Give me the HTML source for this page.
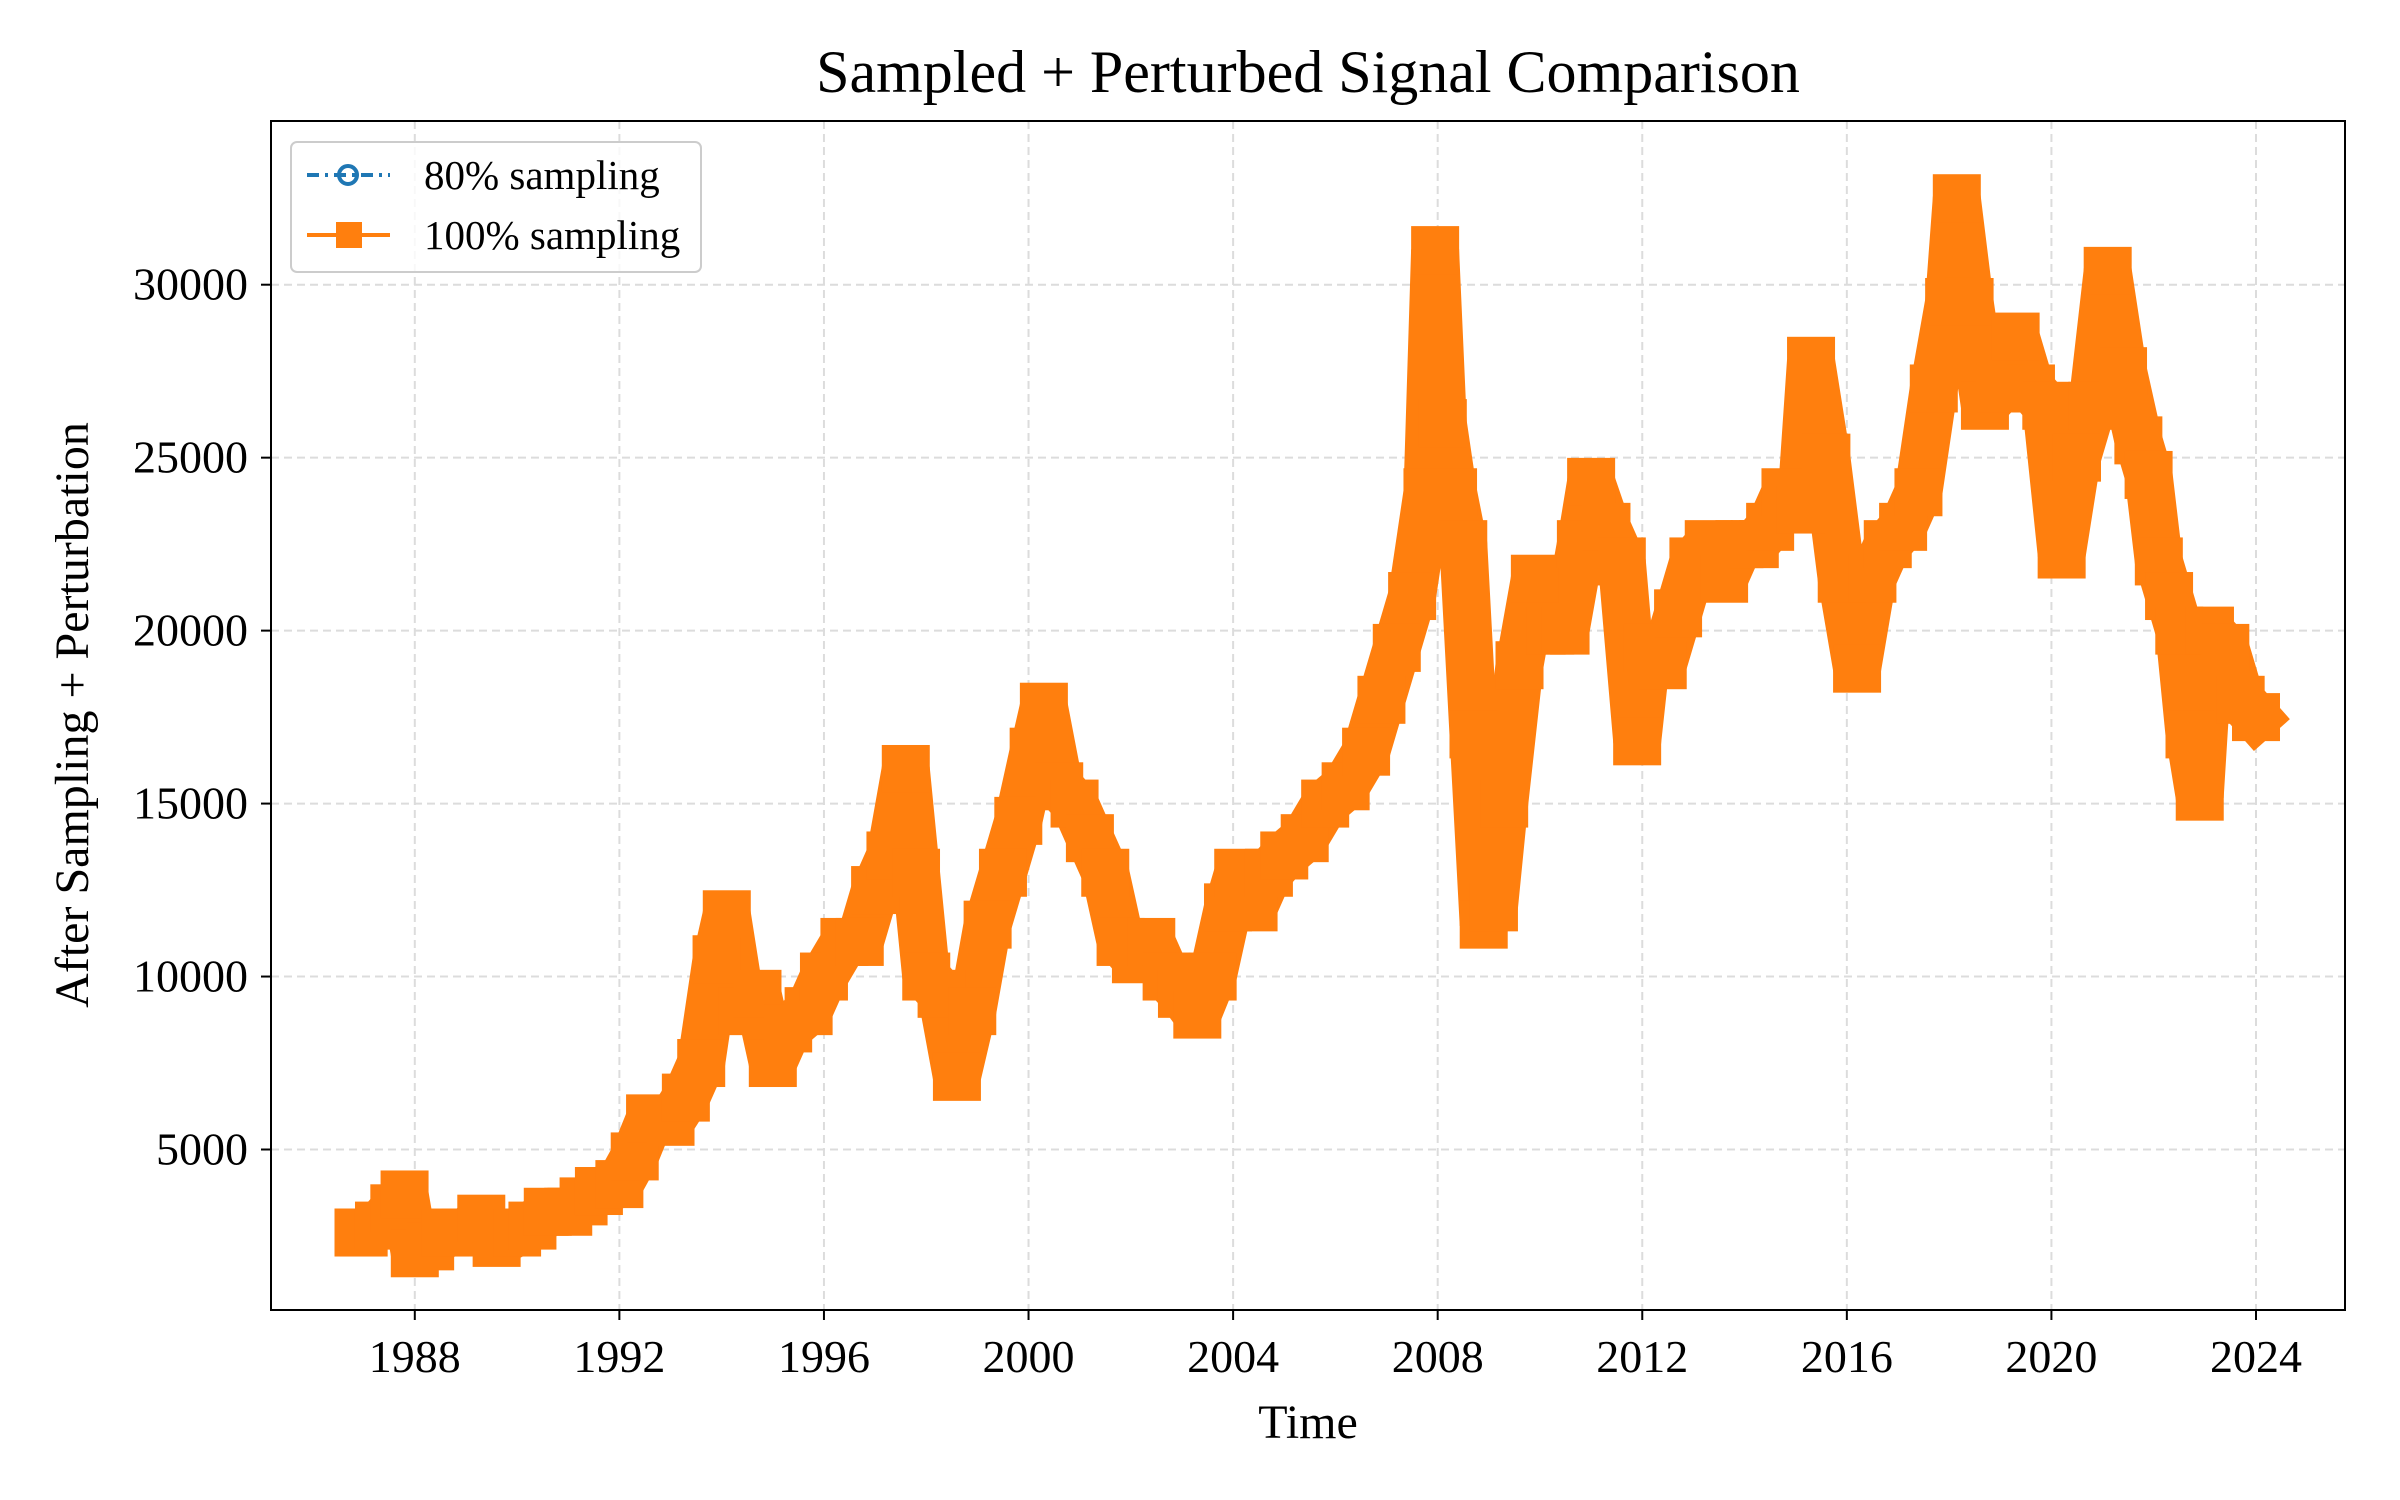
<!DOCTYPE html>
<html><head><meta charset="utf-8"><style>
body{margin:0;background:#fff}
svg{display:block;font-family:"Liberation Serif",serif}
</style></head><body>
<svg id="chart" width="2400" height="1500" viewBox="0 0 2400 1500" xmlns="http://www.w3.org/2000/svg">
<rect width="2400" height="1500" fill="#fff"/>
<g id="grid"></g>
<g id="series"></g>
<rect x="271" y="121" width="2074" height="1189" fill="none" stroke="#000" stroke-width="2"/>
<g id="ticks"></g>
<text x="1308" y="92" font-size="60" text-anchor="middle">Sampled + Perturbed Signal Comparison</text>
<text x="1308" y="1438" font-size="48" text-anchor="middle">Time</text>
<text transform="translate(88,715) rotate(-90)" font-size="48" text-anchor="middle">After Sampling + Perturbation</text>
<g>
<rect x="291" y="142" width="410" height="130" rx="6" fill="#fff" fill-opacity="0.8" stroke="#ccc" stroke-width="2"/>
<g>
<line x1="307" y1="175" x2="390" y2="175" stroke="#1f77b4" stroke-width="4" stroke-dasharray="12,6,3,6"/>
<circle cx="348" cy="175" r="9" fill="none" stroke="#1f77b4" stroke-width="4"/>
<text x="424" y="189" font-size="41">80% sampling</text>
</g>
<g>
<line x1="307" y1="235" x2="390" y2="235" stroke="#ff7f0e" stroke-width="4"/>
<rect x="336" y="222" width="26" height="26" fill="#ff7f0e"/>
<text x="424" y="249" font-size="41">100% sampling</text>
</g>
</g>
</svg>
<script>
const years = [1986.9,1987.0,1987.3,1987.6,1987.8,1988.0,1988.3,1988.6,1989.0,1989.3,1989.6,1990.0,1990.3,1990.6,1991.0,1991.3,1991.6,1992.0,1992.3,1992.6,1993.0,1993.3,1993.6,1993.9,1994.1,1994.4,1994.7,1995.0,1995.3,1995.7,1996.0,1996.4,1996.7,1997.0,1997.3,1997.6,1997.8,1998.0,1998.3,1998.6,1998.9,1999.2,1999.5,1999.8,2000.1,2000.3,2000.6,2000.9,2001.2,2001.5,2001.8,2002.1,2002.4,2002.7,2003.0,2003.3,2003.6,2003.9,2004.1,2004.4,2004.7,2005.0,2005.4,2005.8,2006.2,2006.6,2006.9,2007.2,2007.5,2007.8,2007.95,2008.1,2008.3,2008.5,2008.7,2008.9,2009.1,2009.3,2009.6,2009.9,2010.2,2010.5,2010.8,2011.0,2011.3,2011.6,2011.9,2012.1,2012.4,2012.7,2013.0,2013.3,2013.6,2013.9,2014.2,2014.5,2014.8,2015.1,2015.3,2015.6,2015.9,2016.2,2016.5,2016.8,2017.1,2017.4,2017.7,2018.0,2018.15,2018.4,2018.7,2019.0,2019.3,2019.6,2019.9,2020.2,2020.5,2020.8,2021.1,2021.4,2021.7,2021.9,2022.1,2022.3,2022.5,2022.7,2022.9,2023.1,2023.4,2023.7,2024.0];
const values = [2600,2600,2800,3300,3700,2000,2200,2600,2600,3000,2300,2600,2800,3200,3200,3500,3800,4000,4800,5900,5800,6500,7500,10500,11800,9000,9500,7500,8500,9000,10000,11000,11000,12500,13500,16000,13000,10000,9500,7100,9000,11500,13000,14500,16500,17800,15500,15000,14000,13000,11000,10500,11000,10000,9500,8900,10000,12000,13000,12000,13000,13500,14000,15000,15500,16500,18000,19500,21000,24000,31000,26000,24000,22500,17000,11500,12000,15000,19000,21500,20000,20000,22500,24300,23000,22000,16800,19500,19000,20500,22000,22500,21500,22500,22500,23000,24000,23500,27800,25000,21500,18900,21500,22500,23000,24000,27000,29500,32500,29500,26500,27000,28500,27000,26500,22200,25000,26500,30400,27500,25500,24500,22000,21000,20000,17000,15200,20000,19500,18000,17500];
const xTicks = [1988,1992,1996,2000,2004,2008,2012,2016,2020,2024];
const yTicks = [5000,10000,15000,20000,25000,30000];
const NS="http://www.w3.org/2000/svg";
function xScale(t){return 414.8+(t-1988)*(1841.2/36);}
function yScale(v){return 1149.5-(v-5000)*(864.8/25000);}
const grid=document.getElementById('grid'),ticks=document.getElementById('ticks'),series=document.getElementById('series');
function mk(tag,attrs,parent){const e=document.createElementNS(NS,tag);for(const k in attrs)e.setAttribute(k,attrs[k]);parent.appendChild(e);return e;}
xTicks.forEach(t=>{const x=xScale(t);
 const g=mk('line',{x1:x,x2:x,y1:121,y2:1310,stroke:'#dcdcdc','stroke-width':2,'stroke-dasharray':'8,5'},grid);
 
 
 const tk=mk('line',{x1:x,x2:x,y1:1310,y2:1320,stroke:'#000','stroke-width':2},ticks);
 
 
 const tx=mk('text',{x:x,y:1372,'font-size':46,'text-anchor':'middle'},ticks);tx.textContent=t;
 
 
});
yTicks.forEach(v=>{const y=yScale(v);
 const g=mk('line',{x1:271,x2:2345,y1:y,y2:y,stroke:'#dcdcdc','stroke-width':2,'stroke-dasharray':'8,5'},grid);
 
 
 const tk=mk('line',{x1:261,x2:271,y1:y,y2:y,stroke:'#000','stroke-width':2},ticks);
 
 
 const tx=mk('text',{x:248,y:y+15,'font-size':46,'text-anchor':'end'},ticks);tx.textContent=v;
 
 
});
const pts=years.map((t,i)=>xScale(t).toFixed(1)+','+yScale(values[i]).toFixed(1)).join(' ');
const line=mk('polyline',{points:pts,fill:'none',stroke:'#ff7f0e','stroke-width':48,'stroke-linejoin':'bevel','stroke-linecap':'square'},series);


years.forEach((t,i)=>{const r=mk('rect',{x:xScale(t)-24,y:yScale(values[i])-24,width:48,height:48,fill:'#ff7f0e'},series);
 
 
});
</script>
</body></html>
